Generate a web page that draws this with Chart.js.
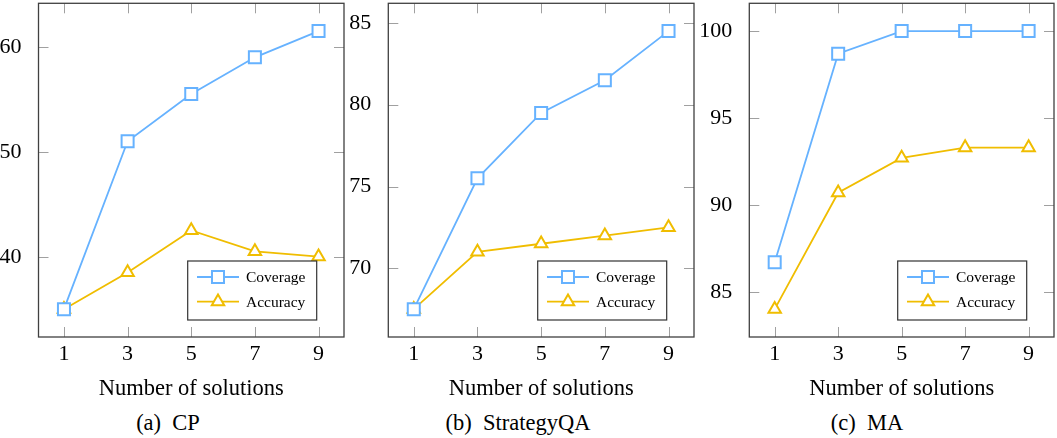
<!DOCTYPE html>
<html>
<head>
<meta charset="utf-8">
<script src="https://cdn.jsdelivr.net/npm/chart.js@4.4.1/dist/chart.umd.min.js"></script>
<style>
  body { margin: 0; background: #fff; width: 1057px; height: 438px; overflow: hidden; position: relative; font-family: 'Liberation Serif', serif; }
  .panel { position: absolute; top: 0; height: 403px; }
  .cap { position: absolute; top: 411px; font-size: 22.5px; line-height: 23px; white-space: nowrap; transform: translateX(-50%); color: #000; }
</style>
</head>
<body>
<div class="panel" style="left:0;width:350px"><canvas id="cp"></canvas></div>
<div class="panel" style="left:350px;width:350px"><canvas id="sqa"></canvas></div>
<div class="panel" style="left:700px;width:357px"><canvas id="ma"></canvas></div>
<div class="cap" style="left:168px">(a)&nbsp; CP</div>
<div class="cap" style="left:518px">(b)&nbsp; StrategyQA</div>
<div class="cap" style="left:867px">(c)&nbsp; MA</div>
<script>
// x values shared by all three panels
const solutions = [1, 3, 5, 7, 9];

const cpCoverage = [35, 51, 55.5, 59, 61.5];
const cpAccuracy = [35, 38.5, 42.5, 40.5, 40];
const cpTicks = [40, 50, 60];

const sqaCoverage = [67.5, 75.5, 79.5, 81.5, 84.5];
const sqaAccuracy = [67.5, 71, 71.5, 72, 72.5];
const sqaTicks = [70, 75, 80, 85];

const maCoverage = [86.7, 98.7, 100, 100, 100];
const maAccuracy = [84, 90.7, 92.7, 93.3, 93.3];
const maTicks = [85, 90, 95, 100];

const blue = '#66b2ff';
const gold = '#f0bd00';
const FONT = 'Liberation Serif';
const TICK = 10;
const noPad = () => ({ left: 0, top: 0, right: 0, bottom: 0 });

// inside tick marks, frame and boxed legend (pgfplots look)
const frame = {
  id: 'frame',
  beforeDatasetsDraw(chart) {
    const { ctx, chartArea: a, scales: { x, y } } = chart;
    ctx.save();
    ctx.strokeStyle = '#a0a0a0';
    ctx.lineWidth = 1;
    ctx.beginPath();
    x.ticks.forEach(t => {
      const px = Math.round(x.getPixelForValue(t.value)) + 0.5;
      ctx.moveTo(px, a.top); ctx.lineTo(px, a.top + TICK);
      ctx.moveTo(px, a.bottom); ctx.lineTo(px, a.bottom - TICK);
    });
    y.ticks.forEach(t => {
      const py = Math.round(y.getPixelForValue(t.value)) + 0.5;
      ctx.moveTo(a.left, py); ctx.lineTo(a.left + TICK, py);
      ctx.moveTo(a.right, py); ctx.lineTo(a.right - TICK, py);
    });
    ctx.stroke();
    ctx.strokeStyle = '#404040';
    ctx.lineWidth = 1.3;
    ctx.strokeRect(a.left, a.top, a.right - a.left, a.bottom - a.top);
    ctx.restore();
  },
  afterDatasetsDraw(chart) {
    const { ctx, chartArea: a } = chart;
    const w = 129, h = 59;
    const left = a.right - 27.3 - w;
    const top = a.bottom - 17 - h;
    ctx.save();
    ctx.fillStyle = '#fff';
    ctx.fillRect(left, top, w, h);
    ctx.strokeStyle = '#333';
    ctx.lineWidth = 1.2;
    ctx.strokeRect(left, top, w, h);
    chart.data.datasets.forEach((ds, i) => {
      const yy = top + 16 + i * 24.7;
      ctx.strokeStyle = ds.borderColor;
      ctx.lineWidth = ds.borderWidth;
      ctx.beginPath();
      ctx.moveTo(left + 9.3, yy); ctx.lineTo(left + 51.3, yy);
      ctx.stroke();
      ctx.fillStyle = '#fff';
      ctx.lineWidth = ds.pointBorderWidth;
      Chart.helpers.drawPoint(ctx, { pointStyle: ds.pointStyle, radius: ds.pointRadius, borderWidth: ds.pointBorderWidth, rotation: 0 }, left + 30.3, yy);
      ctx.fillStyle = '#000';
      ctx.font = '15.5px "' + FONT + '"';
      ctx.textBaseline = 'middle';
      ctx.fillText(ds.label, left + 58.3, yy + 1);
    });
    ctx.restore();
  }
};

function series(label, values, color, style, radius) {
  return {
    label,
    data: solutions.map((s, i) => ({ x: s, y: values[i] })),
    borderColor: color,
    borderWidth: 1.8,
    pointStyle: style,
    pointRadius: radius,
    pointBorderWidth: 2,
    pointBorderColor: color,
    pointBackgroundColor: '#fff',
    clip: false
  };
}

function makeChart(id, coverage, accuracy, yTicks, yMin, yMax, yAxisWidth, rightPad) {
  return new Chart(document.getElementById(id), {
    type: 'line',
    data: {
      datasets: [
        series('Coverage', coverage, blue, 'rect', 8.5),
        series('Accuracy', accuracy, gold, 'triangle', 7.2)
      ]
    },
    options: {
      responsive: true,
      maintainAspectRatio: false,
      animation: false,
      layout: { autoPadding: false, padding: { left: 0, right: rightPad, top: 3.3, bottom: 0 } },
      plugins: { legend: { display: false }, tooltip: { enabled: false } },
      scales: {
        x: {
          type: 'linear',
          min: 0.2, max: 9.8,
          grid: { display: false },
          border: { display: false },
          afterBuildTicks: s => { s.ticks = solutions.map(v => ({ value: v })); },
          afterFit: s => { s.height = 66; s.paddingLeft = 0; s.paddingRight = 0; s.getPadding = noPad; },
          ticks: { color: '#000', font: { family: FONT, size: 22 }, padding: -4, maxRotation: 0 },
          title: { display: true, text: 'Number of solutions', color: '#000', font: { family: FONT, size: 22.5 }, padding: { top: 0, bottom: 0 } }
        },
        y: {
          min: yMin, max: yMax,
          grid: { display: false },
          border: { display: false },
          afterBuildTicks: s => { s.ticks = yTicks.map(v => ({ value: v })); },
          afterFit: s => { s.width = yAxisWidth; s.paddingTop = 0; s.paddingBottom = 0; s.getPadding = noPad; },
          ticks: { color: '#000', font: { family: FONT, size: 22 }, padding: 9 }
        }
      }
    },
    plugins: [frame]
  });
}

makeChart('cp', cpCoverage, cpAccuracy, cpTicks, 32.35, 64.15, 38.5, 6);
makeChart('sqa', sqaCoverage, sqaAccuracy, sqaTicks, 65.8, 86.2, 38.3, 6);
makeChart('ma', maCoverage, maAccuracy, maTicks, 82.4, 101.6, 49.3, 3);
</script>
</body>
</html>
